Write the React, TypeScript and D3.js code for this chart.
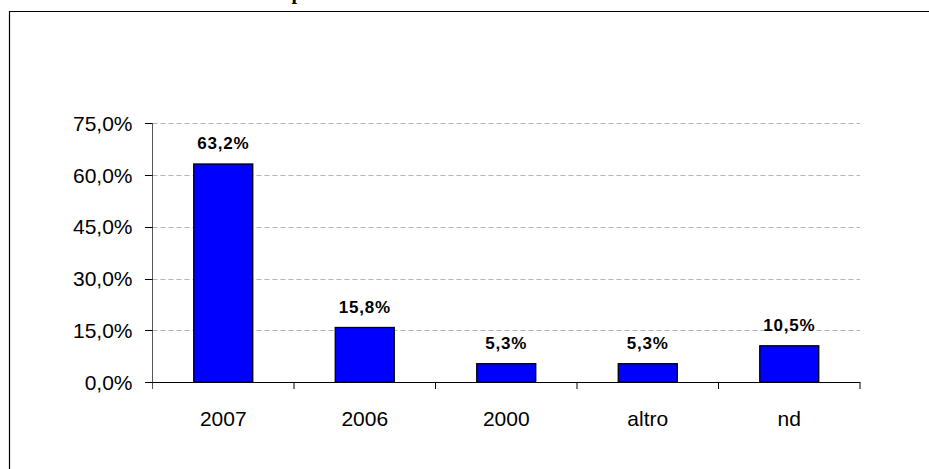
import * as d3 from "d3";

const categories = ["2007", "2006", "2000", "altro", "nd"];
const values = [63.2, 15.8, 5.3, 5.3, 10.5];
const yTicks = [0, 15, 30, 45, 60, 75];

const width = 929;
const height = 469;

const fmt = (v: number) => v.toFixed(1).replace(".", ",") + "%";

export default function App() {
  const x = d3
    .scaleBand<string>()
    .domain(categories)
    .range([152.5, 860])
    .paddingInner(0.583)
    .paddingOuter(0.2915);
  const step = x.step();
  const axisLeft = 152.5;

  const y = d3.scaleLinear().domain([0, 75]).range([382, 123.3]);

  return (
    <svg
      width={width}
      height={height}
      viewBox={`0 0 ${width} ${height}`}
      style={{ position: "absolute", left: 0, top: 0, background: "#fff", overflow: "hidden" }}
    >
      {/* chart area border: only top and left edges fall inside the picture */}
      <path d={`M9.5,${height}V11.5H${width}`} fill="none" stroke="#000" strokeWidth={1.2} />
      {/* title, mostly above the picture */}
      <text x={297} y={-1} fontFamily="Liberation Serif, Times New Roman, serif" fontWeight="bold" fontSize={20} textAnchor="middle">
        p
      </text>

      {/* grid */}
      {yTicks
        .filter((t) => t > 0)
        .map((t) => (
          <line
            key={"g" + t}
            x1={axisLeft}
            x2={860}
            y1={Math.round(y(t)) + 0.5}
            y2={Math.round(y(t)) + 0.5}
            stroke="#b4b4b4"
            strokeDasharray="5,3"
          />
        ))}

      {/* bars */}
      {categories.map((c, i) => (
        <rect
          key={c}
          x={x(c)}
          y={y(values[i])}
          width={x.bandwidth()}
          height={y(0) - y(values[i])}
          fill="#0000ff"
          stroke="#000"
          strokeWidth={1.3}
        />
      ))}

      {/* value labels */}
      {categories.map((c, i) => (
        <text
          key={"v" + c}
          x={(x(c) ?? 0) + x.bandwidth() / 2}
          y={y(values[i]) - 15}
          textAnchor="middle"
          fontFamily="Liberation Sans, Arial, sans-serif"
          fontWeight="bold"
          fontSize={17}
          letterSpacing={0.8}
        >
          {fmt(values[i])}
        </text>
      ))}

      {/* y axis */}
      <line x1={axisLeft} x2={axisLeft} y1={y(75)} y2={389} stroke="#555" strokeWidth={1} />
      {yTicks.map((t) => (
        <g key={"t" + t}>
          <line x1={145} x2={axisLeft} y1={Math.round(y(t)) + 0.5} y2={Math.round(y(t)) + 0.5} stroke="#000" />
          <text
            x={132.5}
            y={y(t) + 7.5}
            textAnchor="end"
            fontFamily="Liberation Sans, Arial, sans-serif"
            fontSize={21}
          >
            {fmt(t)}
          </text>
        </g>
      ))}

      {/* x axis */}
      <line x1={axisLeft} x2={860} y1={382.5} y2={382.5} stroke="#000" />
      {categories.map((c, i) => (
        <line
          key={"xt" + c}
          x1={axisLeft + step * (i + 1)}
          x2={axisLeft + step * (i + 1)}
          y1={382}
          y2={389}
          stroke="#000"
        />
      ))}
      {categories.map((c) => (
        <text
          key={"xl" + c}
          x={(x(c) ?? 0) + x.bandwidth() / 2}
          y={426}
          textAnchor="middle"
          fontFamily="Liberation Sans, Arial, sans-serif"
          fontSize={21}
        >
          {c}
        </text>
      ))}
    </svg>
  );
}
